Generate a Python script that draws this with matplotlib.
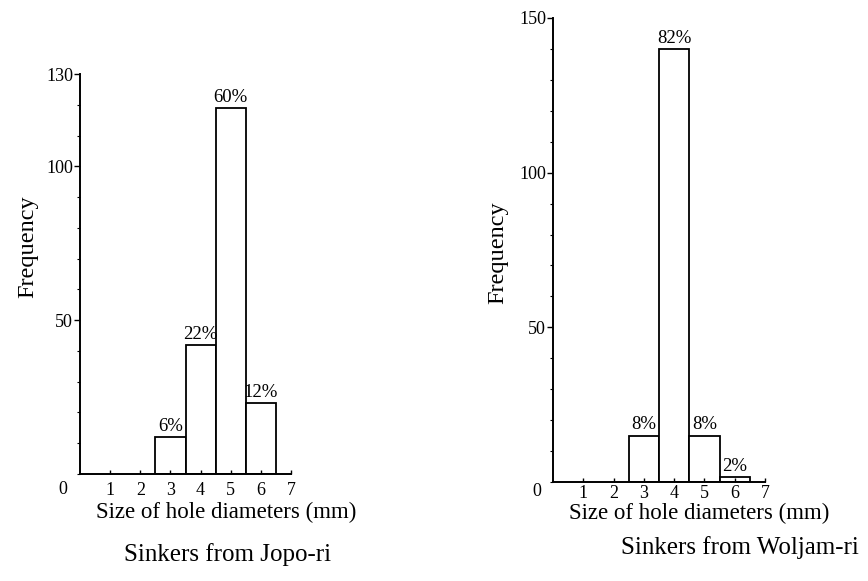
import matplotlib
matplotlib.use("Agg")
import matplotlib.pyplot as plt
from matplotlib.ticker import MultipleLocator

plt.rcParams['font.family'] = ['Liberation Serif', 'DejaVu Serif']

# === Data ===
sizes = [3, 4, 5, 6]
jopo_freq = [12, 42, 119, 23]
jopo_pct = ["6%", "22%", "60%", "12%"]

woljam_freq = [15, 140, 15, 1.5]
woljam_pct = ["8%", "82%", "8%", "2%"]

x_ticks = [1, 2, 3, 4, 5, 6, 7]
W, H = 868, 581


def px_axes(fig, left, right, top, bottom):
    return fig.add_axes([left / W, 1 - bottom / H, (right - left) / W, (bottom - top) / H])


def draw_hist(ax, freq, pct, ymax, yticks, xpad):
    bars = ax.bar(sizes, freq, width=1.0, color="white", edgecolor="black", linewidth=1.3)
    for b, p in zip(bars, pct):
        ax.text(b.get_x() + b.get_width() / 2, b.get_height() + ymax * 0.005, p,
                ha="center", va="bottom", fontsize=13.5)
    ax.set_xlim(0, 7)
    ax.set_ylim(0, ymax)
    ax.set_xticks(x_ticks)
    ax.set_yticks(yticks)
    ax.yaxis.set_minor_locator(MultipleLocator(10))
    for s in ["top", "right"]:
        ax.spines[s].set_visible(False)
    ax.spines["left"].set_linewidth(1.4)
    ax.spines["bottom"].set_linewidth(1.4)
    ax.tick_params(axis="x", direction="in", length=3, width=1, pad=xpad, labelsize=13)
    ax.tick_params(axis="y", which="major", direction="out", length=4, width=1, pad=1, labelsize=13)
    ax.tick_params(axis="y", which="minor", direction="out", length=2, width=0.8)
    ax.set_facecolor("none")


fig = plt.figure(figsize=(W / 100, H / 100), dpi=100)

ax1 = px_axes(fig, 80, 291, 74, 474)
draw_hist(ax1, jopo_freq, jopo_pct, 130, [50, 100, 130], 5.5)
ax2 = px_axes(fig, 553, 765, 18, 482)
draw_hist(ax2, woljam_freq, woljam_pct, 150, [50, 100, 150], 2.5)

# origin labels
fig.text(63 / W, 1 - 489 / H, "0", ha="center", va="center", fontsize=13)
fig.text(537 / W, 1 - 491 / H, "0", ha="center", va="center", fontsize=13)

# axis labels
fig.text(28 / W, 1 - 247 / H, "Frequency", rotation=90, ha="center", va="center", fontsize=17.5)
fig.text(498 / W, 1 - 253 / H, "Frequency", rotation=90, ha="center", va="center", fontsize=17.5)
fig.text(226 / W, 1 - 512 / H, "Size of hole diameters (mm)", ha="center", va="center", fontsize=16.5)
fig.text(699 / W, 1 - 513 / H, "Size of hole diameters (mm)", ha="center", va="center", fontsize=16.5)

# captions
fig.text(228 / W, 1 - 555 / H, "Sinkers from Jopo-ri", ha="center", va="center", fontsize=18)
fig.text(740 / W, 1 - 548 / H, "Sinkers from Woljam-ri", ha="center", va="center", fontsize=18)

fig.savefig("out.png", dpi=100)
